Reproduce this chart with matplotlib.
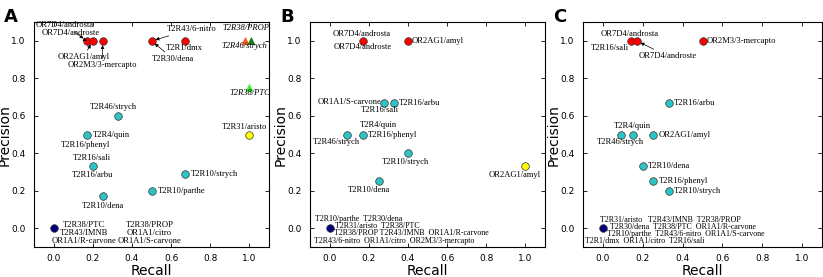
import numpy as np
import matplotlib
matplotlib.use("Agg")
import matplotlib.pyplot as plt

# ---- data ----
# kinds: r = red circle, c = cyan circle, y = yellow, n = navy, to/tg/tl = triangles
a_recall = [0.17, 0.2, 0.25, 0.5, 0.67, 0.98, 1.01, 1.0, 0.33, 0.17, 0.2, 0.67, 0.5, 0.25, 1.0, 0.0]
a_precision = [1.0, 1.0, 1.0, 1.0, 1.0, 1.0, 1.0, 0.75, 0.6, 0.5, 0.33, 0.29, 0.2, 0.17, 0.5, 0.0]
a_kind = ["r", "r", "r", "r", "r", "to", "tg", "tl", "c", "c", "c", "c", "c", "c", "y", "n"]

b_recall = [0.17, 0.4, 0.28, 0.33, 0.09, 0.17, 0.4, 0.25, 1.0, 0.0]
b_precision = [1.0, 1.0, 0.67, 0.67, 0.5, 0.5, 0.4, 0.25, 0.33, 0.0]
b_kind = ["r", "r", "c", "c", "c", "c", "c", "c", "y", "n"]

c_recall = [0.14, 0.17, 0.5, 0.33, 0.09, 0.15, 0.25, 0.2, 0.25, 0.33, 0.0]
c_precision = [1.0, 1.0, 1.0, 0.67, 0.5, 0.5, 0.5, 0.33, 0.25, 0.2, 0.0]
c_kind = ["r", "r", "r", "c", "c", "c", "c", "c", "c", "c", "n"]

# labels: (text, point index, text x, text y, ha, arrow, italic)
a_labels = [
    ("OR7D4/androsta", 0, 0.056, 1.085, "center", True, False),
    ("OR7D4/androste", 0, 0.086, 1.04, "center", True, False),
    ("OR2AG1/amyl", 1, 0.153, 0.914, "center", True, False),
    ("OR2M3/3-mercapto", 2, 0.25, 0.87, "center", True, False),
    ("T2R43/6-nitro", 3, 0.707, 1.063, "center", True, False),
    ("T2R30/dena", 3, 0.61, 0.905, "center", True, False),
    ("T2R1/dmx", 4, 0.667, 0.961, "center", False, False),
    ("T2R38/PROP", 5, 0.98, 1.07, "center", False, True),
    ("T2R46/strych", 6, 0.972, 0.972, "center", False, True),
    ("T2R38/PTC", 7, 1.0, 0.72, "center", False, True),
    ("T2R46/strych", 8, 0.303, 0.649, "center", False, False),
    ("T2R4/quin", 9, 0.2, 0.497, "left", False, False),
    ("T2R16/phenyl", 9, 0.163, 0.444, "center", False, False),
    ("T2R16/sali", 10, 0.197, 0.374, "center", False, False),
    ("T2R16/arbu", 10, 0.2, 0.284, "center", False, False),
    ("T2R10/strych", 11, 0.7, 0.289, "left", False, False),
    ("T2R10/parthe", 12, 0.532, 0.2, "left", False, False),
    ("T2R10/dena", 13, 0.25, 0.118, "center", False, False),
    ("T2R31/aristo", 14, 0.975, 0.541, "center", False, False),
    ("T2R38/PTC\nT2R43/IMNB\nOR1A1/R-carvone", 15, 0.153, -0.026, "center", False, False),
    ("T2R38/PROP\nOR1A1/citro\nOR1A1/S-carvone", 15, 0.49, -0.026, "center", False, False),
]

b_labels = [
    ("OR7D4/androsta", 0, 0.166, 1.037, "center", False, False),
    ("OR7D4/androste", 0, 0.168, 0.966, "center", False, False),
    ("OR2AG1/amyl", 1, 0.42, 1.0, "left", False, False),
    ("OR1A1/S-carvone", 2, 0.265, 0.673, "right", False, False),
    ("T2R16/arbu", 3, 0.352, 0.67, "left", False, False),
    ("T2R16/sali", 3, 0.257, 0.629, "center", False, False),
    ("T2R4/quin", 5, 0.249, 0.55, "center", False, False),
    ("T2R16/phenyl", 5, 0.196, 0.5, "left", False, False),
    ("T2R46/strych", 4, 0.037, 0.459, "center", False, False),
    ("T2R10/strych", 6, 0.387, 0.353, "center", False, False),
    ("T2R10/dena", 7, 0.202, 0.202, "center", False, False),
    ("OR2AG1/amyl", 8, 0.943, 0.285, "center", False, False),
]
# names sharing the (0, 0) point, one row each
b_zero_rows = [
    ("T2R10/parthe  T2R30/dena", -0.076, 0.051),
    ("T2R31/aristo  T2R38/PTC", 0.027, 0.014),
    ("T2R38/PROP T2R43/IMNB  OR1A1/R-carvone", 0.022, -0.027),
    ("T2R43/6-nitro  OR1A1/citro  OR2M3/3-mercapto", -0.08, -0.068),
]

c_labels = [
    ("OR7D4/androsta", 0, 0.136, 1.038, "center", False, False),
    ("T2R16/sali", 0, 0.034, 0.96, "center", False, False),
    ("OR7D4/androste", 1, 0.325, 0.919, "center", True, False),
    ("OR2M3/3-mercapto", 2, 0.52, 1.0, "left", False, False),
    ("T2R16/arbu", 3, 0.357, 0.67, "left", False, False),
    ("T2R4/quin", 5, 0.149, 0.547, "center", False, False),
    ("OR2AG1/amyl", 6, 0.28, 0.5, "left", False, False),
    ("T2R46/strych", 4, 0.085, 0.46, "center", False, False),
    ("T2R10/dena", 7, 0.223, 0.33, "left", False, False),
    ("T2R16/phenyl", 8, 0.278, 0.25, "left", False, False),
    ("T2R10/strych", 9, 0.357, 0.2, "left", False, False),
]
c_zero_rows = [
    ("T2R31/aristo   T2R43/IMNB  T2R38/PROP", -0.015, 0.047),
    ("T2R30/dena  T2R38/PTC  OR1A1/R-carvone", 0.037, 0.007),
    ("T2R10/parthe  T2R43/6-nitro  OR1A1/S-carvone", 0.02, -0.032),
    ("T2R1/dmx  OR1A1/citro  T2R16/sali", -0.088, -0.07),
]

ticks = [0.0, 0.2, 0.4, 0.6, 0.8, 1.0]

styles = {
    "r": dict(marker="o", color="#ff0000", s=30),
    "c": dict(marker="o", color="#2ec4c4", s=30),
    "y": dict(marker="o", color="#ffff00", s=30),
    "n": dict(marker="o", color="#00007a", s=30),
    "to": dict(marker="^", color="#ff5a1e", s=34),
    "tg": dict(marker="^", color="#1f7a1f", s=34),
    "tl": dict(marker="^", color="#3cf03c", s=34),
}

FS = 6.1
SERIF = "Liberation Serif"

fig = plt.figure(figsize=(8.23, 2.77), dpi=100)
positions = [
    [34 / 823, 0.108, 235 / 823, 0.812],
    [310 / 823, 0.108, 235 / 823, 0.812],
    [583 / 823, 0.108, 239 / 823, 0.812],
]
panels = [
    ("A", a_recall, a_precision, a_kind, a_labels, []),
    ("B", b_recall, b_precision, b_kind, b_labels, b_zero_rows),
    ("C", c_recall, c_precision, c_kind, c_labels, c_zero_rows),
]

for pos, (letter, rec, prec, kind, labels, rows) in zip(positions, panels):
    ax = fig.add_axes(pos)
    rec = np.array(rec)
    prec = np.array(prec)
    kind = np.array(kind)
    for k, st in styles.items():
        m = kind == k
        if m.any():
            edge = "none" if k.startswith("t") else "#333333"
            ax.scatter(rec[m], prec[m], marker=st["marker"], s=st["s"],
                       c=st["color"], edgecolors=edge, linewidths=0.5, zorder=3)
    for text, idx, tx, ty, ha, arrow, ital in labels:
        style = "italic" if ital else "normal"
        if arrow:
            ax.annotate(text, xy=(rec[idx], prec[idx]), xytext=(tx, ty),
                        ha=ha, va="center", fontsize=FS, family=SERIF,
                        style=style, linespacing=1.0,
                        arrowprops=dict(arrowstyle="-|>", color="k", lw=0.5,
                                        mutation_scale=5, shrinkA=0, shrinkB=3))
        else:
            ax.text(tx, ty, text, ha=ha, va="center", fontsize=FS,
                    family=SERIF, style=style, linespacing=1.0, clip_on=False)
    for text, tx, ty in rows:
        ax.text(tx, ty, text, ha="left", va="center", fontsize=5.8, family=SERIF)
    ax.set_xlim(-0.1, 1.1)
    ax.set_ylim(-0.1, 1.1)
    ax.set_xticks(ticks)
    ax.set_yticks(ticks)
    ax.set_xticklabels(["%.1f" % t for t in ticks])
    ax.set_yticklabels(["%.1f" % t for t in ticks])
    ax.tick_params(direction="in", length=3, width=0.6, labelsize=6.5,
                   top=True, right=True, pad=5)
    ax.tick_params(axis="y", pad=6)
    ax.set_xlabel("Recall", fontsize=10, labelpad=1)
    ax.set_ylabel("Precision", fontsize=10, labelpad=0)
    for sp in ax.spines.values():
        sp.set_linewidth(0.8)
    fig.text(pos[0] - 30 / 823, 0.97, letter, fontsize=13, fontweight="bold",
             ha="left", va="top")

fig.savefig("out.png", dpi=100)
